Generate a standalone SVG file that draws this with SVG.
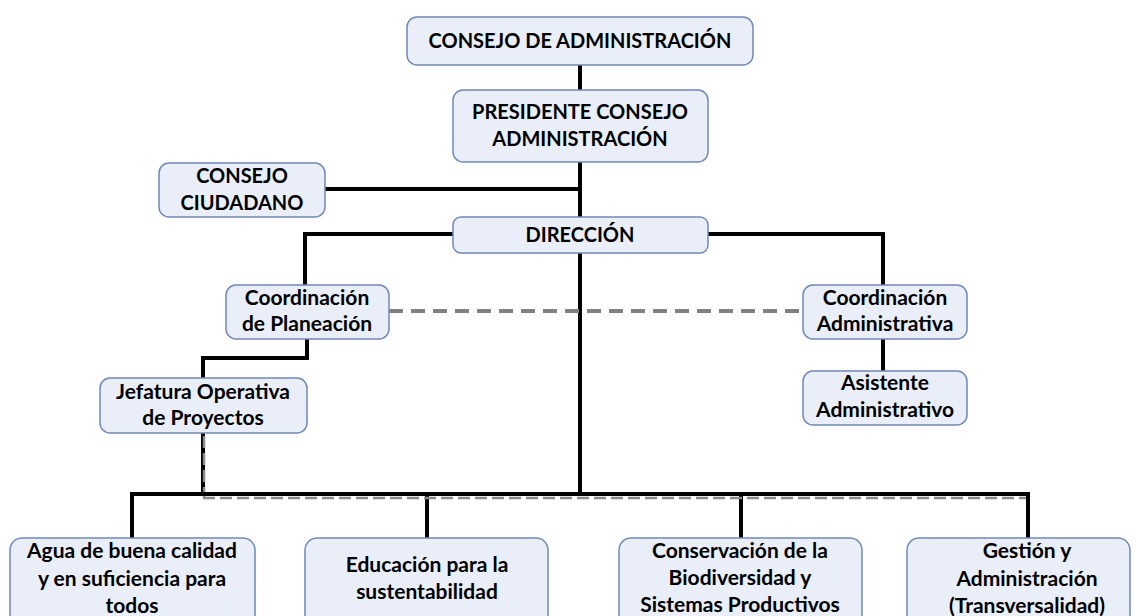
<svg xmlns="http://www.w3.org/2000/svg" width="1138" height="616" viewBox="0 0 1138 616">
<style>
.box{fill:#e9eef8;stroke:#7089b8;stroke-width:1.5}
.t{font-family:Lato,"Liberation Sans",sans-serif;font-weight:bold;font-size:21px;fill:#000;text-anchor:middle}
.c{font-size:20px}
.ln{fill:none;stroke:#000;stroke-width:4}
.ds{fill:none;stroke:#808080;stroke-width:4;stroke-dasharray:14 8}
.ds2{fill:none;stroke:#8a8a8a;stroke-width:2.5;stroke-dasharray:12 5}
</style>
<rect width="1138" height="616" fill="#fff"/>
<g id="connectors">
<path class="ln" d="M580,65 V90 M580,162 V217 M580,253 V494"/>
<path class="ln" d="M325,189 H580"/>
<path class="ln" d="M453,234 H305 V285"/>
<path class="ln" d="M708,234 H883 V285"/>
<path class="ds" d="M389,311 H803"/>
<path class="ln" d="M307,339 V358 H203 V378"/>
<path class="ln" d="M883,339 V371"/>
<path class="ln" d="M203,433 V494"/>
<path class="ds2" d="M204,436 V497"/>
<path class="ln" d="M132,538 V494 H1028 V538"/>
<path class="ln" d="M427,494 V538 M741,494 V538"/>
<path class="ds2" d="M203,498 H1026"/>
</g>
<g id="consejo-admin"><rect class="box" x="407" y="17" width="346" height="48" rx="10"/><text class="t c" x="580" y="48">CONSEJO DE ADMINISTRACIÓN</text></g>
<g id="presidente"><rect class="box" x="453" y="90" width="255" height="72" rx="10"/><text class="t c" x="580" y="119">PRESIDENTE CONSEJO</text><text class="t c" x="580" y="146">ADMINISTRACIÓN</text></g>
<g id="consejo-ciudadano"><rect class="box" x="159" y="163" width="166" height="54" rx="10"/><text class="t c" x="242" y="183">CONSEJO</text><text class="t c" x="242" y="210">CIUDADANO</text></g>
<g id="direccion"><rect class="box" x="453" y="217" width="255" height="36" rx="8"/><text class="t c" x="580" y="242">DIRECCIÓN</text></g>
<g id="coord-planeacion"><rect class="box" x="226" y="285" width="163" height="54" rx="10"/><text class="t" x="307" y="305">Coordinación</text><text class="t" x="307" y="331">de Planeación</text></g>
<g id="coord-admin"><rect class="box" x="803" y="285" width="164" height="54" rx="10"/><text class="t" x="885" y="305">Coordinación</text><text class="t" x="885" y="331">Administrativa</text></g>
<g id="jefatura"><rect class="box" x="100" y="378" width="207" height="55" rx="10"/><text class="t" x="203" y="399">Jefatura Operativa</text><text class="t" x="203" y="425">de Proyectos</text></g>
<g id="asistente"><rect class="box" x="803" y="371" width="164" height="54" rx="10"/><text class="t" x="885" y="390">Asistente</text><text class="t" x="885" y="417">Administrativo</text></g>
<g id="agua"><rect class="box" x="10" y="538" width="245" height="92" rx="12"/><text class="t" x="132" y="558">Agua de buena calidad</text><text class="t" x="132" y="586">y en suficiencia para</text><text class="t" x="132" y="613">todos</text></g>
<g id="educacion"><rect class="box" x="305" y="538" width="243" height="92" rx="12"/><text class="t" x="427" y="572">Educación para la</text><text class="t" x="427" y="599">sustentabilidad</text></g>
<g id="conservacion"><rect class="box" x="619" y="538" width="243" height="92" rx="12"/><text class="t" x="740" y="558">Conservación de la</text><text class="t" x="740" y="585">Biodiversidad y</text><text class="t" x="740" y="612">Sistemas Productivos</text></g>
<g id="gestion"><rect class="box" x="907" y="538" width="223" height="92" rx="12"/><text class="t" x="1027" y="558">Gestión y</text><text class="t" x="1027" y="586">Administración</text><text class="t" x="1027" y="613">(Transversalidad)</text></g>
</svg>
